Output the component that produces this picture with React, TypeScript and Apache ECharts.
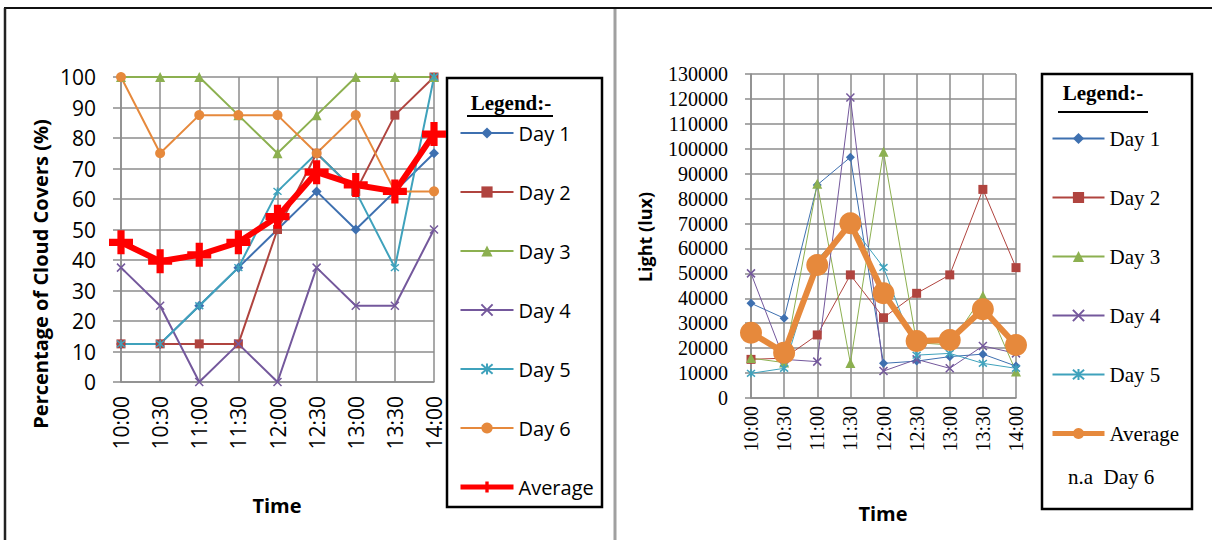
import React, { useEffect, useRef } from "react";
import * as echarts from "echarts";

const times = ["10:00", "10:30", "11:00", "11:30", "12:00", "12:30", "13:00", "13:30", "14:00"];

const cloudDay1 = [12.5, 12.5, 25, 37.5, 50, 62.5, 50, 62.5, 75];
const cloudDay2 = [12.5, 12.5, 12.5, 12.5, 50, 75, 62.5, 87.5, 100];
const cloudDay3 = [100, 100, 100, 87.5, 75, 87.5, 100, 100, 100];
const cloudDay4 = [37.5, 25, 0, 12.5, 0, 37.5, 25, 25, 50];
const cloudDay5 = [12.5, 12.5, 25, 37.5, 62.5, 75, 62.5, 37.5, 100];
const cloudDay6 = [100, 75, 87.5, 87.5, 87.5, 75, 87.5, 62.5, 62.5];
const cloudAvg = [45.8, 39.6, 41.7, 45.8, 54.2, 68.8, 64.6, 62.5, 81.3];

const lightDay1 = [38000, 32000, 85500, 96600, 13900, 14800, 16600, 17600, 12800];
const lightDay2 = [15500, 16000, 25300, 49400, 32200, 42000, 49400, 83700, 52300];
const lightDay3 = [16000, 14200, 86000, 14000, 98800, 22200, 21300, 41000, 10600];
const lightDay4 = [50000, 15500, 14600, 120600, 10800, 15500, 11900, 20900, 17900];
const lightDay5 = [9900, 11900, 55600, 69900, 52400, 17200, 17900, 13900, 11900];
const lightAvg = [26200, 18200, 53400, 70100, 42000, 22900, 23300, 35600, 21300];

const C1 = "#3e70b0";
const C2 = "#b0443f";
const C3 = "#8cb050";
const C4 = "#74589c";
const C5 = "#3fa2bc";
const C6 = "#e6893c";
const GRID = "#8c8c8c";

const X_SYM = "path://M0,0 L10,10 M10,0 L0,10";
const STAR_SYM = "path://M0,0 L10,10 M10,0 L0,10 M5,-1 L5,11";
const PLUS_SYM = "path://M0,7 H7 V0 H13 V7 H20 V13 H13 V20 H7 V13 H0 Z";

const SANS = "'Open Sans', 'Liberation Sans', sans-serif";
const SERIF = "'Liberation Serif', 'Times New Roman', serif";

function lineSeries(name: string, data: number[], color: string, symbol: string, size: number, width: number, stroke = false) {
  return {
    type: "line",
    name,
    data,
    symbol,
    symbolSize: size,
    lineStyle: { color, width },
    itemStyle: stroke ? { color, borderColor: color, borderWidth: 1.5 } : { color },
    emphasis: { disabled: true },
  };
}

function useChart(option: any) {
  const ref = useRef<HTMLDivElement>(null);
  useEffect(() => {
    if (!ref.current) return;
    const chart = echarts.init(ref.current, null, { renderer: "svg" });
    chart.setOption(option);
    return () => chart.dispose();
  }, []);
  return ref;
}

function leftOption() {
  return {
    animation: false,
    grid: { left: 121, right: 183, top: 77, bottom: 158 },
    xAxis: {
      type: "category",
      data: times,
      boundaryGap: false,
      axisLine: { lineStyle: { color: GRID, width: 1.5 } },
      axisTick: { show: false },
      splitLine: { show: true, lineStyle: { color: GRID, width: 1.5 } },
      axisLabel: { rotate: 90, interval: 0, margin: 14, color: "#000", fontSize: 21, fontFamily: SANS },
    },
    yAxis: {
      type: "value",
      min: 0,
      max: 100,
      interval: 10,
      axisLine: { show: true, lineStyle: { color: GRID, width: 1.5 } },
      axisTick: { show: true, length: 8, lineStyle: { color: GRID, width: 1.5 } },
      splitLine: { show: true, lineStyle: { color: GRID, width: 1.5 } },
      axisLabel: { margin: 25, color: "#000", fontSize: 21, fontFamily: SANS },
    },
    legend: {
      orient: "vertical",
      left: 458,
      top: 123,
      padding: 0,
      itemWidth: 53,
      itemHeight: 14,
      itemGap: 39,
      selectedMode: false,
      textStyle: { color: "#000", fontSize: 20, fontFamily: SANS },
      data: ["Day 1", "Day 2", "Day 3", "Day 4", "Day 5", "Day 6", { name: "Average", lineStyle: { width: 5 } }],
    },
    series: [
      lineSeries("Day 1", cloudDay1, C1, "diamond", 10, 2),
      lineSeries("Day 2", cloudDay2, C2, "rect", 9, 2),
      lineSeries("Day 3", cloudDay3, C3, "triangle", 10, 2),
      lineSeries("Day 4", cloudDay4, C4, X_SYM, 8, 2, true),
      lineSeries("Day 5", cloudDay5, C5, STAR_SYM, 8, 2, true),
      lineSeries("Day 6", cloudDay6, C6, "circle", 10, 2),
      lineSeries("Average", cloudAvg, "#ff0000", PLUS_SYM, 24, 6),
    ],
    graphic: [
      { type: "line", shape: { x1: 4, y1: 8, x2: 617, y2: 8 }, style: { stroke: "#111", lineWidth: 2 } },
      { type: "line", shape: { x1: 5, y1: 8, x2: 5, y2: 540 }, style: { stroke: "#222", lineWidth: 2.5 } },
      { type: "line", shape: { x1: 615, y1: 9, x2: 615, y2: 540 }, style: { stroke: "#a0a0a0", lineWidth: 3 } },
      {
        type: "text",
        x: 40,
        y: 274,
        rotation: Math.PI / 2,
        style: { text: "Percentage of Cloud Covers (%)", fill: "#000", font: `bold 20px ${SANS}`, align: "center", verticalAlign: "middle" },
      },
      {
        type: "text",
        x: 277,
        y: 505,
        style: { text: "Time", fill: "#000", font: `bold 20px ${SANS}`, align: "center", verticalAlign: "middle" },
      },
      { type: "rect", shape: { x: 447, y: 78, width: 155, height: 429 }, style: { fill: "none", stroke: "#000", lineWidth: 2.5 } },
      {
        type: "text",
        x: 511,
        y: 103,
        style: { text: "Legend:-", fill: "#000", font: `bold 21px ${SERIF}`, align: "center", verticalAlign: "middle" },
      },
      { type: "line", shape: { x1: 467, y1: 116, x2: 553, y2: 116 }, style: { stroke: "#000", lineWidth: 2 } },
    ],
  };
}

function rightOption() {
  return {
    animation: false,
    grid: { left: 134, right: 196, top: 74, bottom: 142 },
    xAxis: {
      type: "category",
      data: times,
      boundaryGap: false,
      axisLine: { lineStyle: { color: GRID, width: 1.5 } },
      axisTick: { show: false },
      splitLine: { show: true, lineStyle: { color: GRID, width: 1.5 } },
      axisLabel: { rotate: 90, interval: 0, margin: 8, color: "#000", fontSize: 20, fontFamily: SERIF },
    },
    yAxis: {
      type: "value",
      min: 0,
      max: 130000,
      interval: 10000,
      axisLine: { show: true, lineStyle: { color: GRID, width: 1.5 } },
      axisTick: { show: true, length: 6, lineStyle: { color: GRID, width: 1.5 } },
      splitLine: { show: true, lineStyle: { color: GRID, width: 1.5 } },
      axisLabel: { margin: 23, color: "#000", fontSize: 20, fontFamily: SERIF, formatter: (v: number) => String(v) },
    },
    legend: {
      orient: "vertical",
      left: 433,
      top: 128,
      padding: 0,
      itemWidth: 52,
      itemHeight: 14,
      itemGap: 38,
      selectedMode: false,
      textStyle: { color: "#000", fontSize: 21, fontFamily: SERIF },
      data: ["Day 1", "Day 2", "Day 3", "Day 4", "Day 5", { name: "Average", lineStyle: { width: 5 } }],
    },
    series: [
      lineSeries("Day 1", lightDay1, C1, "diamond", 9, 1),
      lineSeries("Day 2", lightDay2, C2, "rect", 9, 1),
      lineSeries("Day 3", lightDay3, C3, "triangle", 10, 1),
      lineSeries("Day 4", lightDay4, C4, X_SYM, 8, 1, true),
      lineSeries("Day 5", lightDay5, C5, STAR_SYM, 8, 1, true),
      lineSeries("Average", lightAvg, C6, "circle", 22, 6),
    ],
    graphic: [
      { type: "line", shape: { x1: 0, y1: 8, x2: 595, y2: 8 }, style: { stroke: "#111", lineWidth: 2 } },
      {
        type: "text",
        x: 28,
        y: 237,
        rotation: Math.PI / 2,
        style: { text: "Light (lux)", fill: "#000", font: `bold 18px ${SANS}`, align: "center", verticalAlign: "middle" },
      },
      {
        type: "text",
        x: 266,
        y: 513,
        style: { text: "Time", fill: "#000", font: `bold 20px ${SANS}`, align: "center", verticalAlign: "middle" },
      },
      { type: "rect", shape: { x: 425, y: 74, width: 150, height: 435 }, style: { fill: "none", stroke: "#000", lineWidth: 2.5 } },
      {
        type: "text",
        x: 486,
        y: 93,
        style: { text: "Legend:-", fill: "#000", font: `bold 21px ${SERIF}`, align: "center", verticalAlign: "middle" },
      },
      { type: "line", shape: { x1: 441, y1: 112, x2: 531, y2: 112 }, style: { stroke: "#000", lineWidth: 2 } },
      {
        type: "text",
        x: 451,
        y: 477,
        style: { text: "n.a\u00a0 Day 6", fill: "#000", font: `21px ${SERIF}`, align: "left", verticalAlign: "middle" },
      },
    ],
  };
}

export default function App() {
  const leftRef = useChart(leftOption());
  const rightRef = useChart(rightOption());
  return (
    <div style={{ position: "absolute", left: 0, top: 0, width: 1212, height: 540, background: "#fff" }}>
      <div ref={leftRef} style={{ position: "absolute", left: 0, top: 0, width: 617, height: 540 }} />
      <div ref={rightRef} style={{ position: "absolute", left: 617, top: 0, width: 595, height: 540 }} />
    </div>
  );
}
